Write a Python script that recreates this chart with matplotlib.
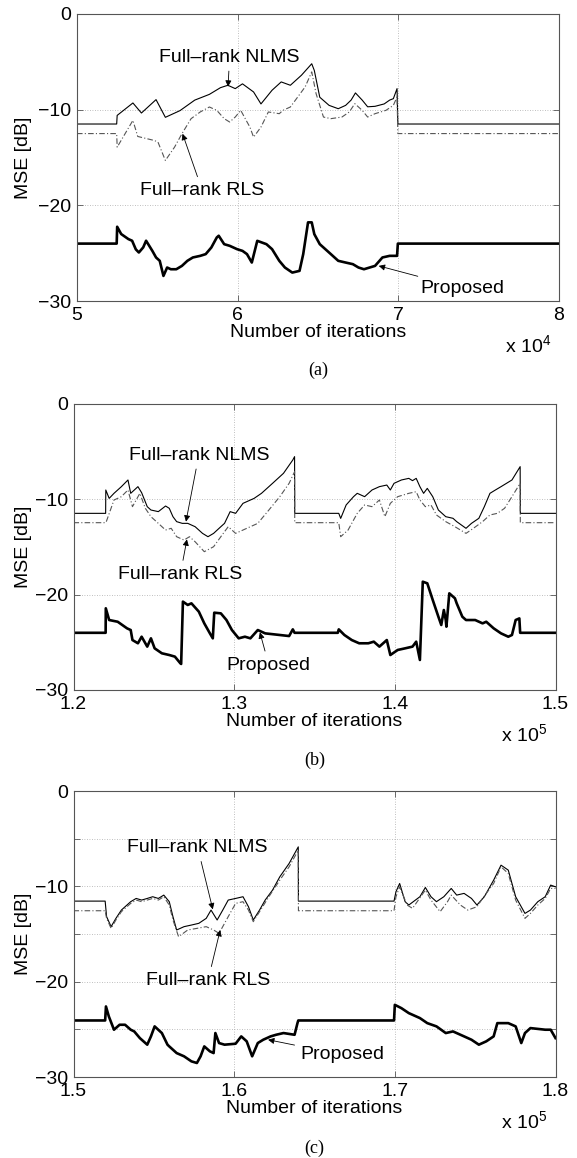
import matplotlib
matplotlib.use("Agg")
import matplotlib.pyplot as plt
import numpy as np

plt.rcParams['font.family'] = ['Liberation Sans', 'DejaVu Sans']
plt.rcParams['mathtext.default'] = 'regular'

# ---------------- Panel (a): x in units of 1e4 iterations ----------------
a_x_nlms = [5.0, 5.247, 5.25, 5.348, 5.401, 5.492, 5.55, 5.641, 5.733, 5.824, 5.893, 5.939, 5.985,
            6.03, 6.099, 6.145, 6.214, 6.271, 6.328, 6.397, 6.461, 6.477, 6.511, 6.569, 6.626,
            6.672, 6.706, 6.733, 6.775, 6.809, 6.855, 6.912, 6.946, 6.969, 6.992, 6.997, 8.0]
a_y_nlms = [-11.5, -11.5, -10.6, -9.3, -10.35, -8.95, -10.8, -10.1, -9.0, -8.4, -7.7, -7.45, -7.8,
            -7.3, -8.15, -9.4, -7.97, -7.1, -7.45, -6.4, -5.2, -5.9, -8.7, -9.55, -9.9,
            -9.55, -9.0, -8.25, -9.0, -9.7, -9.65, -9.4, -9.0, -8.85, -7.8, -11.5, -11.5]

a_x_rls = [5.0, 5.247, 5.25, 5.348, 5.378, 5.481, 5.504, 5.55, 5.607, 5.653, 5.71, 5.767, 5.824,
           5.87, 5.916, 5.95, 5.985, 6.019, 6.053, 6.076, 6.099, 6.145, 6.191, 6.259, 6.282, 6.328,
           6.374, 6.42, 6.461, 6.488, 6.534, 6.58, 6.649, 6.695, 6.729, 6.775, 6.809, 6.855, 6.923,
           6.969, 6.992, 6.997, 8.0]
a_y_rls = [-12.5, -12.5, -13.92, -11.12, -12.8, -13.22, -13.39, -15.31, -13.92, -12.52, -10.94,
           -10.24, -9.72, -10.07, -10.94, -11.29, -10.77, -10.07, -11.12, -11.82, -12.87, -11.82,
           -10.24, -10.42, -10.07, -9.72, -8.67, -7.62, -6.05, -8.32, -10.77, -10.94, -10.77,
           -10.24, -9.37, -10.07, -10.77, -10.42, -10.07, -9.55, -8.67, -12.5, -12.5]

a_x_prop = [5.0, 5.247, 5.25, 5.275, 5.32, 5.343, 5.366, 5.385, 5.412, 5.43, 5.469, 5.492, 5.515,
            5.538, 5.561, 5.584, 5.618, 5.653, 5.687, 5.721, 5.767, 5.801, 5.836, 5.87, 5.882,
            5.916, 5.95, 5.996, 6.03, 6.058, 6.088, 6.122, 6.179, 6.214, 6.259, 6.294, 6.34,
            6.385, 6.408, 6.438, 6.461, 6.477, 6.511, 6.58, 6.626, 6.672, 6.717, 6.752, 6.786,
            6.855, 6.901, 6.946, 6.992, 6.997, 8.0]
a_y_prop = [-24.0, -24.0, -22.24, -23.0, -23.53, -23.7, -24.6, -24.93, -24.4, -23.7, -24.76,
            -25.45, -25.8, -27.38, -26.5, -26.68, -26.68, -26.33, -25.8, -25.45, -25.28, -25.1,
            -24.41, -23.36, -23.18, -24.06, -24.23, -24.58, -24.76, -25.1, -25.98, -23.71,
            -24.06, -24.58, -25.8, -26.5, -27.03, -26.85, -25.1, -21.78, -21.78, -23.01, -24.06,
            -25.1, -25.8, -25.98, -26.15, -26.5, -26.68, -26.33, -25.45, -25.28, -25.28, -24.0,
            -24.0]

# ---------------- Panel (b): x in units of 1e5 iterations ----------------
b_x_nlms = [1.2, 1.22, 1.2201, 1.2222, 1.2252, 1.2298, 1.2339, 1.2356, 1.2401, 1.2424, 1.2459,
            1.2482, 1.2528, 1.2573, 1.2596, 1.2619, 1.2642, 1.2677, 1.2711, 1.2757, 1.2803,
            1.2837, 1.2872, 1.2917, 1.294, 1.2975, 1.3009, 1.3055, 1.3124, 1.317, 1.3239, 1.3307,
            1.3365, 1.3376, 1.3377, 1.3651, 1.3663, 1.3697, 1.3743, 1.3766, 1.3812, 1.3858,
            1.3904, 1.395, 1.3972, 1.3995, 1.4041, 1.4087, 1.411, 1.4133, 1.4156, 1.4179, 1.4202,
            1.4236, 1.4271, 1.4317, 1.4362, 1.4385, 1.4443, 1.4477, 1.4523, 1.4557, 1.4592,
            1.4626, 1.4661, 1.4695, 1.4729, 1.478, 1.4781, 1.5]
b_y_nlms = [-11.47, -11.47, -9.02, -9.9, -9.37, -8.67, -7.97, -9.37, -8.67, -9.3, -10.77, -11.12,
            -11.29, -10.7, -10.94, -11.82, -12.34, -12.52, -12.52, -12.87, -13.57, -13.92,
            -13.57, -12.87, -12.52, -11.29, -11.47, -10.42, -9.9, -9.37, -8.32, -7.27, -5.87,
            -5.52, -11.47, -11.47, -12.0, -10.59, -9.72, -9.37, -9.72, -9.02, -8.67, -8.5, -9.02,
            -8.32, -7.97, -7.8, -8.04, -7.8, -8.67, -9.37, -8.85, -9.72, -11.12, -11.82, -11.99,
            -12.34, -13.04, -12.52, -11.99, -10.77, -9.37, -9.02, -8.67, -8.32, -7.97, -6.57,
            -11.47, -11.47]

b_x_rls = [1.2, 1.22, 1.2205, 1.2252, 1.2298, 1.2339, 1.2367, 1.2413, 1.2447, 1.2482, 1.2528,
           1.2573, 1.2608, 1.2642, 1.2688, 1.2722, 1.2757, 1.2814, 1.2872, 1.2917, 1.2963, 1.3009,
           1.3055, 1.3147, 1.3216, 1.3284, 1.3342, 1.3376, 1.3377, 1.3651, 1.3663, 1.3709,
           1.3766, 1.3812, 1.3858, 1.3904, 1.3938, 1.3972, 1.4018, 1.4087, 1.4133, 1.4156, 1.419,
           1.4225, 1.4259, 1.4317, 1.4374, 1.4443, 1.4489, 1.4546, 1.4592, 1.4638, 1.4683,
           1.4729, 1.478, 1.4781, 1.5]
b_y_rls = [-12.45, -12.45, -12.3, -10.07, -9.72, -9.02, -10.77, -9.37, -10.94, -11.82, -12.52,
           -13.22, -13.04, -13.92, -14.27, -13.92, -14.45, -15.49, -14.97, -13.92, -12.87, -13.57,
           -13.22, -12.52, -11.12, -9.72, -8.32, -7.1, -12.45, -12.45, -13.92, -13.22, -11.47,
           -10.59, -10.77, -10.07, -11.82, -10.42, -9.72, -9.37, -9.2, -10.07, -10.77, -10.59,
           -11.64, -12.34, -12.87, -13.57, -13.04, -12.34, -11.64, -11.47, -10.94, -9.72, -8.32,
           -12.45, -12.45]

b_x_prop = [1.2, 1.22, 1.2201, 1.2222, 1.2275, 1.2333, 1.2356, 1.2367, 1.2401, 1.2424, 1.2459,
            1.2482, 1.2505, 1.255, 1.2596, 1.2631, 1.2665, 1.267, 1.2681, 1.2711, 1.2734, 1.278,
            1.2814, 1.2849, 1.2867, 1.2876, 1.2917, 1.2952, 1.2986, 1.3028, 1.3067, 1.3101,
            1.3147, 1.3193, 1.3284, 1.3342, 1.3365, 1.3376, 1.3645, 1.3651, 1.3686, 1.3732,
            1.3778, 1.3835, 1.3869, 1.3904, 1.395, 1.3972, 1.4018, 1.4064, 1.411, 1.4133, 1.4156,
            1.4174, 1.4202, 1.4236, 1.4271, 1.4289, 1.4305, 1.4317, 1.4321, 1.4339, 1.4374,
            1.4385, 1.442, 1.4443, 1.45, 1.4546, 1.4569, 1.4615, 1.4661, 1.4706, 1.4729, 1.4752,
            1.4775, 1.478, 1.5]
b_y_prop = [-24.0, -24.0, -21.43, -22.66, -22.84, -23.53, -23.71, -24.76, -25.1, -24.41, -25.45,
            -24.58, -25.63, -26.15, -26.33, -26.5, -27.2, -27.27, -20.73, -21.08, -20.91, -21.78,
            -23.01, -24.06, -24.58, -21.89, -21.96, -22.66, -23.71, -24.58, -24.41, -24.58,
            -23.71, -24.06, -24.23, -24.34, -23.64, -24.0, -24.0, -23.64, -24.23, -24.76, -25.1,
            -25.1, -24.93, -25.45, -24.76, -26.33, -25.8, -25.63, -25.45, -24.93, -26.85, -18.64,
            -18.81, -20.56, -22.31, -23.18, -21.61, -22.66, -23.36, -19.86, -20.38, -20.91,
            -22.31, -22.66, -22.66, -23.01, -22.84, -23.53, -24.06, -24.41, -24.23, -22.66,
            -22.49, -24.0, -24.0]

# ---------------- Panel (c): x in units of 1e5 iterations ----------------
c_x_nlms = [1.5, 1.5197, 1.5206, 1.5234, 1.5264, 1.5298, 1.5321, 1.5356, 1.539, 1.5424, 1.5459,
            1.5493, 1.5528, 1.5562, 1.5596, 1.5619, 1.5642, 1.5688, 1.5734, 1.578, 1.5826,
            1.5856, 1.5894, 1.5929, 1.5963, 1.6009, 1.6055, 1.6089, 1.6119, 1.6158, 1.6193,
            1.6239, 1.6284, 1.6342, 1.6399, 1.64, 1.6995, 1.7007, 1.703, 1.7064, 1.7087, 1.7156,
            1.719, 1.7225, 1.7259, 1.7305, 1.7351, 1.7385, 1.7431, 1.7477, 1.7511, 1.7557,
            1.7615, 1.7661, 1.7706, 1.7752, 1.781, 1.7844, 1.789, 1.7936, 1.797, 1.8]
c_y_nlms = [-11.55, -11.55, -13.18, -14.23, -13.36, -12.49, -12.14, -11.61, -11.27, -11.44,
            -11.27, -11.09, -11.27, -10.92, -11.61, -13.18, -14.58, -14.23, -14.06, -13.88,
            -13.36, -12.49, -13.53, -12.49, -11.44, -11.27, -11.09, -12.14, -13.53, -12.49,
            -11.44, -10.39, -9.0, -7.6, -5.86, -11.55, -11.55, -10.57, -9.7, -11.61, -11.96,
            -11.09, -10.12, -11.09, -11.61, -11.09, -10.22, -10.92, -10.74, -11.27, -11.96,
            -11.09, -9.35, -7.78, -8.3, -11.09, -12.84, -12.49, -11.61, -11.09, -9.87, -10.05]

c_x_rls = [1.5, 1.5197, 1.5206, 1.5234, 1.5264, 1.5298, 1.5321, 1.5356, 1.539, 1.5424, 1.5459,
           1.5493, 1.5528, 1.5562, 1.5596, 1.5619, 1.5654, 1.5711, 1.5768, 1.5826, 1.5872,
           1.5906, 1.5963, 1.6009, 1.6055, 1.6089, 1.6119, 1.6158, 1.6216, 1.6284, 1.6342,
           1.6399, 1.64, 1.6995, 1.7007, 1.703, 1.7076, 1.711, 1.719, 1.7225, 1.7282, 1.7328,
           1.7351, 1.7408, 1.7454, 1.7511, 1.7546, 1.7615, 1.7661, 1.7706, 1.7752, 1.781, 1.7844,
           1.789, 1.7936, 1.797, 1.8]
c_y_rls = [-12.56, -12.56, -13.36, -14.41, -13.53, -12.66, -12.31, -11.79, -11.44, -11.61,
           -11.44, -11.27, -11.44, -11.09, -11.96, -13.53, -15.28, -14.58, -14.41, -14.23,
           -14.58, -14.93, -13.18, -11.79, -11.61, -12.49, -13.71, -12.66, -11.09, -9.35, -7.95,
           -6.21, -12.56, -12.56, -11.09, -10.05, -11.96, -12.31, -10.39, -11.44, -12.66,
           -11.61, -10.92, -11.96, -12.49, -12.14, -11.27, -9.7, -7.95, -8.65, -11.44, -13.36,
           -12.84, -11.96, -11.27, -10.22, -10.22]

c_x_prop = [1.5, 1.5197, 1.5202, 1.522, 1.5252, 1.5287, 1.5321, 1.5356, 1.5378, 1.5413, 1.5459,
            1.5482, 1.5505, 1.555, 1.5585, 1.5596, 1.5642, 1.5688, 1.5734, 1.5768, 1.5791,
            1.5814, 1.5849, 1.5872, 1.5883, 1.5906, 1.594, 1.6009, 1.6044, 1.6078, 1.6112,
            1.6147, 1.6181, 1.6227, 1.6261, 1.6307, 1.6376, 1.6394, 1.6399, 1.6995, 1.7, 1.7041,
            1.7087, 1.7156, 1.7202, 1.7259, 1.7317, 1.7362, 1.7431, 1.7477, 1.7523, 1.7569,
            1.7615, 1.7638, 1.7706, 1.7752, 1.7787, 1.781, 1.7844, 1.7936, 1.797, 1.8]
c_y_prop = [-24.07, -24.07, -22.6, -23.65, -25.04, -24.52, -24.52, -25.04, -25.22, -25.92,
            -26.61, -25.74, -24.69, -25.39, -26.61, -26.79, -27.49, -27.83, -28.36, -28.53,
            -27.83, -26.79, -27.31, -27.49, -25.39, -26.44, -26.61, -26.51, -25.74, -26.26,
            -27.83, -26.44, -26.09, -25.74, -25.57, -25.39, -25.57, -24.35, -24.07, -24.07,
            -22.43, -22.78, -23.3, -23.82, -24.35, -24.69, -25.39, -25.22, -25.74, -26.09,
            -26.61, -26.26, -25.74, -24.35, -24.35, -24.69, -26.44, -25.39, -24.87, -25.04,
            -25.04, -25.92]

# ---------------- Axis settings ----------------
panel_xlim = [(5, 8), (1.2, 1.5), (1.5, 1.8)]
panel_xticks = [[5, 6, 7, 8], [1.2, 1.3, 1.4, 1.5], [1.5, 1.6, 1.7, 1.8]]
panel_xticklabels = [['5', '6', '7', '8'], ['1.2', '1.3', '1.4', '1.5'], ['1.5', '1.6', '1.7', '1.8']]
panel_yticks = [[-30, -20, -10, 0], [-30, -20, -10, 0], [-30, -25, -20, -15, -10, -5, 0]]
panel_yticklabels = [['\u221230', '\u221220', '\u221210', '0'],
                     ['\u221230', '\u221220', '\u221210', '0'],
                     ['\u221230', '', '\u221220', '', '\u221210', '', '0']]
panel_exponent = ['4', '5', '5']
panel_caption = ['(a)', '(b)', '(c)']

# annotation positions: (text xy, arrow tip xy)
ann_nlms = [((5.95, -4.5), (5.94, -7.6)), ((1.278, -5.35), (1.270, -12.34)), ((1.5773, -5.93), (1.5867, -12.42))]
ann_rls = [((5.78, -18.46), (5.657, -12.52)), ((1.2665, -17.87), (1.2706, -14.2)), ((1.5837, -19.88), (1.5913, -14.58))]
ann_prop = [((7.14, -28.67), (6.878, -26.33)), ((1.3216, -27.38), (1.316, -23.95)), ((1.641, -27.66), (1.6211, -26.09))]
prop_ha = ['left', 'center', 'left']

series = [(a_x_nlms, a_y_nlms, a_x_rls, a_y_rls, a_x_prop, a_y_prop),
          (b_x_nlms, b_y_nlms, b_x_rls, b_y_rls, b_x_prop, b_y_prop),
          (c_x_nlms, c_y_nlms, c_x_rls, c_y_rls, c_x_prop, c_y_prop)]

W, H = 577, 1158
fig = plt.figure(figsize=(W / 100, H / 100), dpi=100)

# axes boxes in pixels: left, top, right, bottom
boxes = [(77, 14, 559, 301), (73.5, 404, 555.5, 690), (73.5, 791, 555.5, 1077)]
caption_y = [370, 760, 1148]

FS = 14
spine_col = '#555555'
for i in range(3):
    l, t, r, b = boxes[i]
    ax = fig.add_axes([l / W, 1 - b / H, (r - l) / W, (b - t) / H])
    xn, yn, xr, yr, xp, yp = series[i]
    ax.plot(xn, yn, color='black', lw=0.8)
    ax.plot(xr, yr, color='#555555', lw=0.8, ls='-.', dashes=(5, 2, 1, 2))
    ax.plot(xp, yp, color='black', lw=1.9)
    ax.set_xlim(*panel_xlim[i])
    ax.set_ylim(-30, 0)
    ax.set_xticks(panel_xticks[i])
    ax.set_xticklabels(panel_xticklabels[i])
    ax.set_yticks(panel_yticks[i])
    ax.set_yticklabels(panel_yticklabels[i])
    ax.tick_params(direction='in', top=True, right=True, labelsize=FS, length=4,
                   width=0.6, color=spine_col, pad=4)
    ax.tick_params(axis='x', pad=4)
    for s in ax.spines.values():
        s.set_color(spine_col)
        s.set_linewidth(0.8)
    ax.grid(True, ls=(0, (1, 2)), color='#aaaaaa', lw=0.6)
    ax.set_xlabel('Number of iterations', fontsize=FS)
    ax.xaxis.set_label_coords(0.5, -23 / (b - t))
    ax.set_ylabel('MSE [dB]', fontsize=FS)
    ax.yaxis.set_label_coords(-(l - 32) / (r - l), 0.5)
    ax.annotate('x 10$^{%s}$' % panel_exponent[i], xy=(1, 0), xycoords='axes fraction',
                xytext=(-8 * 0.72, -44 * 0.72), textcoords='offset points',
                ha='right', va='center', fontsize=FS)
    arrow = dict(arrowstyle='-|>', color='black', lw=0.6, mutation_scale=9, shrinkA=2, shrinkB=0)
    (tx, ty), (px_, py_) = ann_nlms[i]
    ax.annotate('Full\u2013rank NLMS', xy=(px_, py_), xytext=(tx, ty), ha='center', va='center',
                fontsize=FS, arrowprops=arrow)
    (tx, ty), (px_, py_) = ann_rls[i]
    ax.annotate('Full\u2013rank RLS', xy=(px_, py_), xytext=(tx, ty), ha='center', va='center',
                fontsize=FS, arrowprops=arrow)
    (tx, ty), (px_, py_) = ann_prop[i]
    ax.annotate('Proposed', xy=(px_, py_), xytext=(tx, ty), ha=prop_ha[i], va='center',
                fontsize=FS, arrowprops=arrow)
    fig.text(((l + r) / 2) / W, 1 - caption_y[i] / H, panel_caption[i], ha='center', va='center',
             fontsize=13, family=['Liberation Serif', 'DejaVu Serif'])

fig.savefig('out.png', dpi=100)
